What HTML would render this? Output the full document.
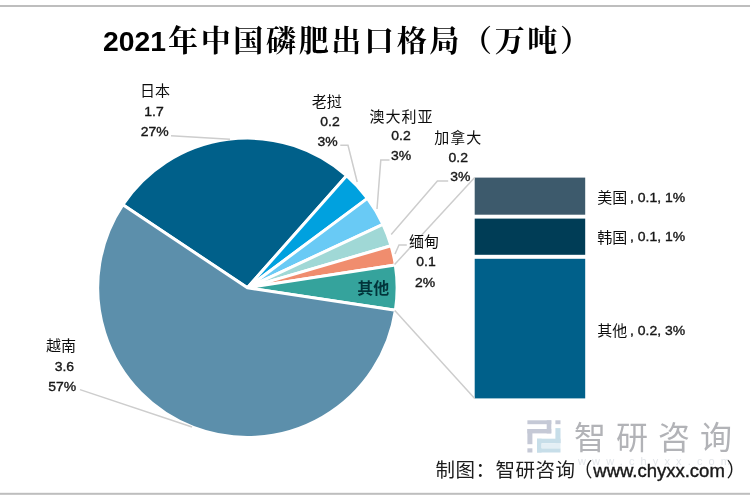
<!DOCTYPE html>
<html lang="zh"><head><meta charset="utf-8"><title>2021年中国磷肥出口格局（万吨）</title>
<style>
html,body{margin:0;padding:0;background:#fff;}
body{width:750px;height:500px;overflow:hidden;font-family:"Liberation Sans",sans-serif;}
svg{display:block;}
</style></head><body>
<svg width="750" height="500" viewBox="0 0 750 500">
<defs><filter id="soft" x="-5%" y="-5%" width="110%" height="110%" filterUnits="objectBoundingBox"><feGaussianBlur stdDeviation="0.55"/></filter></defs>
<rect x="0" y="0" width="750" height="500" fill="#fff"/>
<g filter="url(#soft)">
<rect x="-10" y="5" width="770" height="2" fill="#bebebe"/>
<rect x="-10" y="492.8" width="770" height="2" fill="#bebebe"/>
<text x="103" y="51" font-family="Liberation Sans, sans-serif" font-weight="700" font-size="28.5" fill="#000" textLength="63" lengthAdjust="spacingAndGlyphs">2021</text>
<text x="168" y="51" font-family="'Liberation Sans', 'Noto Serif CJK SC', serif" font-weight="700" font-size="30" fill="#000" textLength="422" lengthAdjust="spacing">年中国磷肥出口格局（万吨）</text>
<path d="M247.40 287.80 L122.86 204.74 A149.70 149.70 0 0 1 346.59 175.68 Z" fill="#00608a" stroke="#fff" stroke-width="3" stroke-linejoin="round"/>
<path d="M247.40 287.80 L346.59 175.68 A149.70 149.70 0 0 1 367.43 198.34 Z" fill="#05a1df" stroke="#fff" stroke-width="3" stroke-linejoin="round"/>
<path d="M247.40 287.80 L367.43 198.34 A149.70 149.70 0 0 1 382.96 224.30 Z" fill="#69caf5" stroke="#fff" stroke-width="3" stroke-linejoin="round"/>
<path d="M247.40 287.80 L382.96 224.30 A149.70 149.70 0 0 1 391.08 245.78 Z" fill="#a0d8d6" stroke="#fff" stroke-width="3" stroke-linejoin="round"/>
<path d="M247.40 287.80 L391.08 245.78 A149.70 149.70 0 0 1 395.34 264.90 Z" fill="#f08d6e" stroke="#fff" stroke-width="3" stroke-linejoin="round"/>
<path d="M247.40 287.80 L395.34 264.90 A149.70 149.70 0 0 1 395.42 310.19 Z" fill="#34a39c" stroke="#fff" stroke-width="3" stroke-linejoin="round"/>
<path d="M247.40 287.80 L395.42 310.19 A149.70 149.70 0 1 1 122.86 204.74 Z" fill="#5c8fab" stroke="#fff" stroke-width="3" stroke-linejoin="round"/>
<rect x="474.7" y="177.6" width="110.50000000000006" height="37.099999999999994" fill="#3d5a6c"/>
<rect x="474.7" y="218.6" width="110.50000000000006" height="36.20000000000002" fill="#003d57"/>
<rect x="474.7" y="258.8" width="110.50000000000006" height="139.59999999999997" fill="#00608a"/>
<polyline points="394.6,264.5 474.7,177.6" fill="none" stroke="#cdcdcd" stroke-width="1.5"/>
<polyline points="394.8,310.5 474.7,398.4" fill="none" stroke="#cdcdcd" stroke-width="1.5"/>
<polyline points="171.0,135.8 230.0,139.3" fill="none" stroke="#cdcdcd" stroke-width="1.5"/>
<polyline points="80.0,389.6 192.0,427.0" fill="none" stroke="#cdcdcd" stroke-width="1.5"/>
<polyline points="340.3,145.3 348.0,145.3 357.2,182.0" fill="none" stroke="#cdcdcd" stroke-width="1.5"/>
<polyline points="389.5,159.9 380.8,159.9 377.0,209.0" fill="none" stroke="#cdcdcd" stroke-width="1.5"/>
<polyline points="448.2,181.0 437.4,181.0 391.2,234.5" fill="none" stroke="#cdcdcd" stroke-width="1.5"/>
<polyline points="406.8,245.0 399.0,245.0 395.0,254.0" fill="none" stroke="#cdcdcd" stroke-width="1.5"/>
<text x="155" y="96" font-family="'Liberation Sans', 'Noto Sans CJK SC', sans-serif" font-size="15" fill="#111" text-anchor="middle">日本</text>
<text transform="translate(154,115.5) scale(1.06,1)" font-family="Liberation Sans, sans-serif" font-size="13.2" fill="#151515" text-anchor="middle" stroke="#151515" stroke-width="0.35">1.7</text>
<text transform="translate(154.8,135.5) scale(1.06,1)" font-family="Liberation Sans, sans-serif" font-size="13.2" fill="#151515" text-anchor="middle" stroke="#151515" stroke-width="0.35">27%</text>
<text x="61" y="350.5" font-family="'Liberation Sans', 'Noto Sans CJK SC', sans-serif" font-size="15" fill="#111" text-anchor="middle">越南</text>
<text transform="translate(64.4,370.6) scale(1.06,1)" font-family="Liberation Sans, sans-serif" font-size="13.2" fill="#151515" text-anchor="middle" stroke="#151515" stroke-width="0.35">3.6</text>
<text transform="translate(62.3,390.6) scale(1.06,1)" font-family="Liberation Sans, sans-serif" font-size="13.2" fill="#151515" text-anchor="middle" stroke="#151515" stroke-width="0.35">57%</text>
<text x="326.7" y="106.5" font-family="'Liberation Sans', 'Noto Sans CJK SC', sans-serif" font-size="15" fill="#111" text-anchor="middle">老挝</text>
<text transform="translate(330,126.0) scale(1.06,1)" font-family="Liberation Sans, sans-serif" font-size="13.2" fill="#151515" text-anchor="middle" stroke="#151515" stroke-width="0.35">0.2</text>
<text transform="translate(327.5,146.0) scale(1.06,1)" font-family="Liberation Sans, sans-serif" font-size="13.2" fill="#151515" text-anchor="middle" stroke="#151515" stroke-width="0.35">3%</text>
<text x="401" y="122" font-family="'Liberation Sans', 'Noto Sans CJK SC', sans-serif" font-size="15" fill="#111" text-anchor="middle" textLength="63" lengthAdjust="spacing">澳大利亚</text>
<text transform="translate(401,140.2) scale(1.06,1)" font-family="Liberation Sans, sans-serif" font-size="13.2" fill="#151515" text-anchor="middle" stroke="#151515" stroke-width="0.35">0.2</text>
<text transform="translate(401,160.1) scale(1.06,1)" font-family="Liberation Sans, sans-serif" font-size="13.2" fill="#151515" text-anchor="middle" stroke="#151515" stroke-width="0.35">3%</text>
<text x="457.7" y="142.7" font-family="'Liberation Sans', 'Noto Sans CJK SC', sans-serif" font-size="15" fill="#111" text-anchor="middle" textLength="47" lengthAdjust="spacing">加拿大</text>
<text transform="translate(458.3,162.29999999999998) scale(1.06,1)" font-family="Liberation Sans, sans-serif" font-size="13.2" fill="#151515" text-anchor="middle" stroke="#151515" stroke-width="0.35">0.2</text>
<text transform="translate(460.3,180.9) scale(1.06,1)" font-family="Liberation Sans, sans-serif" font-size="13.2" fill="#151515" text-anchor="middle" stroke="#151515" stroke-width="0.35">3%</text>
<text x="424" y="246.6" font-family="'Liberation Sans', 'Noto Sans CJK SC', sans-serif" font-size="15" fill="#111" text-anchor="middle">缅甸</text>
<text transform="translate(426,266.3) scale(1.06,1)" font-family="Liberation Sans, sans-serif" font-size="13.2" fill="#151515" text-anchor="middle" stroke="#151515" stroke-width="0.35">0.1</text>
<text transform="translate(425,286.9) scale(1.06,1)" font-family="Liberation Sans, sans-serif" font-size="13.2" fill="#151515" text-anchor="middle" stroke="#151515" stroke-width="0.35">2%</text>
<text x="373.3" y="293.7" font-family="'Liberation Sans', 'Noto Sans CJK SC', sans-serif" font-size="16" font-weight="700" fill="#06353b" text-anchor="middle">其他</text>
<text x="597.3" y="203" font-family="'Liberation Sans', 'Noto Sans CJK SC', sans-serif" font-size="15" fill="#111">美国</text>
<text transform="translate(630,201.6) scale(1.06,1)" font-family="Liberation Sans, sans-serif" font-size="13.2" fill="#151515" text-anchor="start" stroke="#151515" stroke-width="0.35">, 0.1, 1%</text>
<text x="597.3" y="242.7" font-family="'Liberation Sans', 'Noto Sans CJK SC', sans-serif" font-size="15" fill="#111">韩国</text>
<text transform="translate(630,241.2) scale(1.06,1)" font-family="Liberation Sans, sans-serif" font-size="13.2" fill="#151515" text-anchor="start" stroke="#151515" stroke-width="0.35">, 0.1, 1%</text>
<text x="597.3" y="336" font-family="'Liberation Sans', 'Noto Sans CJK SC', sans-serif" font-size="15" fill="#111">其他</text>
<text transform="translate(630,334.6) scale(1.06,1)" font-family="Liberation Sans, sans-serif" font-size="13.2" fill="#151515" text-anchor="start" stroke="#151515" stroke-width="0.35">, 0.2, 3%</text>
<rect x="527.4" y="420.3" width="23.9" height="3.9" fill="#c5c9d6"/>
<rect x="546.7" y="420.3" width="4.6" height="13.1" fill="#c5c9d6"/>
<rect x="527.4" y="429.0" width="23.9" height="4.4" fill="#c5c9d6"/>
<rect x="527.4" y="429.0" width="5.0" height="15.2" fill="#c5c9d6"/>
<rect x="527.4" y="448.3" width="5.0" height="4.2" fill="#c5c9d6"/>
<rect x="555.4" y="420.3" width="5.1" height="3.9" fill="#c5c9d6"/>
<rect x="555.4" y="428.1" width="5.1" height="15.2" fill="#c7dee9"/>
<rect x="537.0" y="438.7" width="23.5" height="4.6" fill="#c7dee9"/>
<rect x="537.0" y="438.7" width="4.6" height="13.8" fill="#c7dee9"/>
<rect x="537.0" y="448.3" width="23.5" height="4.2" fill="#c7dee9"/>
<rect x="541.6" y="443.3" width="18.9" height="5.0" fill="#e4eff5"/>
<text x="574" y="448.5" font-family="'Liberation Sans', 'Noto Sans CJK SC', sans-serif" font-size="32" letter-spacing="10" fill="#b2b3b7">智研咨询</text>
<text x="578" y="465" font-family="Liberation Sans, sans-serif" font-size="11" fill="#e3e6ea" textLength="152" lengthAdjust="spacing">www.chyxx.com</text>
<text x="435.5" y="477.3" font-family="'Liberation Sans', 'Noto Sans CJK SC', sans-serif" font-size="19.5" letter-spacing="0.5" fill="#1a1a1a">制图：智研咨询</text>
<text x="592.5" y="477.3" font-family="'Liberation Sans', 'Noto Sans CJK SC', sans-serif" font-size="19.5" fill="#1a1a1a" text-anchor="end">（</text>
<text x="593.3" y="476.5" font-family="Liberation Sans, sans-serif" font-size="18" fill="#1a1a1a" stroke="#1a1a1a" stroke-width="0.4" textLength="131.5" lengthAdjust="spacingAndGlyphs">www.chyxx.com</text>
<text x="726.5" y="477.3" font-family="'Liberation Sans', 'Noto Sans CJK SC', sans-serif" font-size="19.5" fill="#1a1a1a">）</text>
</g>
</svg>
</body></html>
